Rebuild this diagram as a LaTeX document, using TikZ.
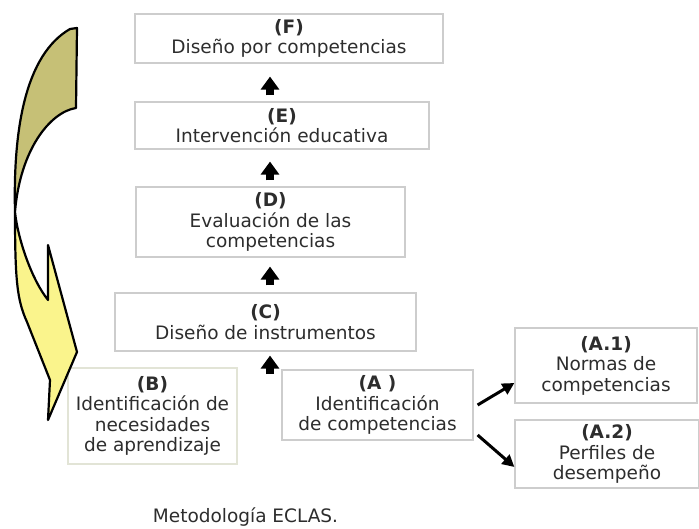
\documentclass[tikz,border=0pt]{standalone}
\usepackage{fontspec}
\setmainfont{DejaVu Sans}
\usetikzlibrary{arrows.meta}
\definecolor{boxline}{RGB}{205,205,205}
\definecolor{boxlineB}{RGB}{226,228,214}
\definecolor{txt}{RGB}{45,45,45}
\definecolor{olivefill}{RGB}{198,192,118}
\definecolor{yellowfill}{RGB}{250,244,140}
\begin{document}
\begin{tikzpicture}[x=1pt,y=-1pt,
  box/.style={draw=boxline, line width=1.2pt, fill=white, align=center,
    inner sep=0pt, text=txt, font=\fontsize{18.5}{20.5}\selectfont},
  uparrow/.style={line width=8pt, -{Triangle[width=18pt,length=13pt]}, black},
  diagarrow/.style={line width=3pt, -{Triangle[width=12pt,length=12pt]}, black},
  bandline/.style={draw=black, line width=2.2pt, line join=round}]
\useasboundingbox (0,0) rectangle (699,529);

% boxes
\node[box, minimum width=308pt, minimum height=49pt] (F) at (289,38.5)
  {\textbf{(F)}\\Diseño por competencias};
\node[box, minimum width=294pt, minimum height=47pt] (E) at (282,125.5)
  {\textbf{(E)}\\Intervención educativa};
\node[box, minimum width=269pt, minimum height=70pt] (D) at (270.5,222)
  {\textbf{(D)}\\Evaluación de las\\competencias};
\node[box, minimum width=301pt, minimum height=58pt] (C) at (265.5,322)
  {\textbf{(C)}\\Diseño de instrumentos};
\node[box, draw=boxlineB, minimum width=169pt, minimum height=96pt] (B) at (152.5,416)
  {\textbf{(B)}\\Identificación de\\necesidades\\de aprendizaje};
\node[box, minimum width=191pt, minimum height=70pt] (A) at (377.5,405)
  {\textbf{(A )}\\Identificación\\de competencias};
\node[box, minimum width=182pt, minimum height=75pt] (A1) at (606,365.5)
  {\textbf{(A.1)}\\Normas de\\competencias};
\node[box, minimum width=184pt, minimum height=68pt] (A2) at (607,454)
  {\textbf{(A.2)}\\Perfiles de\\desempeño};

\node[text=txt, font=\fontsize{18.5}{20.5}\selectfont, inner sep=0pt] (cap) at (245.5,517) {Metodología ECLAS.};

% vertical arrows
\coordinate (ax) at (270,0);
\coordinate (afoot) at (270,374);
\draw[uparrow, shorten <=6pt, shorten >=13pt] (E.north -| ax) -- (F.south -| ax);
\draw[uparrow, shorten <=6pt, shorten >=12pt] (D.north -| ax) -- (E.south -| ax);
\draw[uparrow, shorten <=7pt, shorten >=9pt] (C.north -| ax) -- (D.south -| ax);
\draw[uparrow, shorten >=4pt] (afoot) -- (C.south -| ax);

% diagonal arrows
\draw[diagarrow] ([xshift=4pt]A.east) -- ([yshift=-17.5pt]A1.west);
\draw[diagarrow] ([xshift=4pt,yshift=-30pt]A.east) -- ([yshift=-13pt]A2.west);

% curved band arrow
\filldraw[fill=olivefill, bandline]
  (15,212) .. controls (13,130) and (25,55) .. (70,29)
  -- (77,28) -- (76,108)
  .. controls (50,112) and (20,150) .. (15,212) -- cycle;
\filldraw[fill=yellowfill, bandline]
  (15,212) .. controls (18,240) and (32,280) .. (48,300)
  -- (48,245) -- (77,352) -- (48,420) -- (50,380)
  -- (27,322) .. controls (17,300) and (15,280) .. (15,212) -- cycle;
\end{tikzpicture}
\end{document}
